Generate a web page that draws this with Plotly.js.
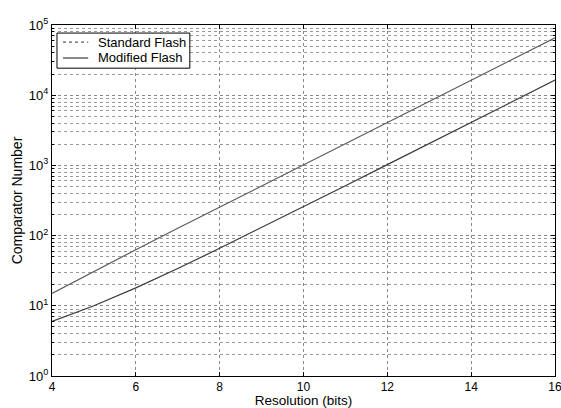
<!DOCTYPE html>
<html>
<head>
<meta charset="utf-8">
<script src="https://cdn.plot.ly/plotly-3.0.1.min.js"></script>
<style>html,body{margin:0;padding:0;background:#fff;}#chart{width:561px;height:408px;}</style>
</head>
<body>
<div id="chart"></div>
<script>
var resolution = [4, 5, 6, 7, 8, 9, 10, 11, 12, 13, 14, 15, 16];
var standardFlash = [15, 31, 63, 127, 255, 511, 1023, 2047, 4095, 8191, 16383, 32767, 65535];
var modifiedFlash = [6, 10, 18, 34, 66, 130, 258, 514, 1026, 2050, 4098, 8194, 16386];
var seriesNames = ['Standard Flash', 'Modified Flash'];
var seriesColors = ['#5a5a5a', '#3a3a3a'];
var yTickVals = [1, 10, 100, 1000, 10000, 100000];
var yTickText = ['10<sup>0</sup>', '10<sup>1</sup>', '10<sup>2</sup>', '10<sup>3</sup>', '10<sup>4</sup>', '10<sup>5</sup>'];
var xTickVals = [4, 6, 8, 10, 12, 14, 16];

var traces = [
  {x: resolution, y: standardFlash, name: seriesNames[0], mode: 'lines',
   line: {color: seriesColors[0], width: 1.2}},
  {x: resolution, y: modifiedFlash, name: seriesNames[1], mode: 'lines',
   line: {color: seriesColors[1], width: 1.2}}
];

var fam = 'Liberation Sans, Arial, sans-serif';
// custom compact legend (paper coordinates)
var legendShapes = [
  {type: 'rect', xref: 'paper', yref: 'paper', x0: 0.0099, x1: 0.274, y0: 0.877, y1: 0.977,
   line: {color: '#000', width: 1}, fillcolor: '#fff', layer: 'above'},
  {type: 'line', xref: 'paper', yref: 'paper', x0: 0.022, x1: 0.072, y0: 0.951, y1: 0.951,
   line: {color: seriesColors[0], width: 1.2, dash: 'dot'}, layer: 'above'},
  {type: 'line', xref: 'paper', yref: 'paper', x0: 0.022, x1: 0.072, y0: 0.906, y1: 0.906,
   line: {color: seriesColors[1], width: 1.2}, layer: 'above'}
];
var legendAnn = [
  {xref: 'paper', yref: 'paper', x: 0.088, y: 0.951, xanchor: 'left', yanchor: 'middle',
   text: seriesNames[0], showarrow: false, font: {family: fam, size: 13, color: '#000'}},
  {xref: 'paper', yref: 'paper', x: 0.088, y: 0.906, xanchor: 'left', yanchor: 'middle',
   text: seriesNames[1], showarrow: false, font: {family: fam, size: 13, color: '#000'}}
];

var layout = {
  width: 561, height: 408,
  margin: {l: 52, r: 6, t: 25, b: 32},
  paper_bgcolor: '#fff', plot_bgcolor: '#fff',
  font: {family: fam, size: 13, color: '#000'},
  showlegend: false,
  shapes: legendShapes,
  annotations: legendAnn,
  xaxis: {
    range: [4, 16], tickmode: 'array', tickvals: xTickVals,
    showline: true, mirror: 'ticks', linecolor: '#000', linewidth: 1,
    ticks: 'inside', ticklen: 4, tickcolor: '#000',
    ticklabeloverflow: 'allow',
    showgrid: true, gridcolor: '#888', griddash: 'dot', gridwidth: 1,
    zeroline: false,
    tickfont: {size: 12},
    title: {text: 'Resolution (bits)', font: {size: 13.5}, standoff: 0}
  },
  yaxis: {
    type: 'log', range: [0, 5], tickmode: 'array', tickvals: yTickVals, ticktext: yTickText,
    showline: true, mirror: 'ticks', linecolor: '#000', linewidth: 1,
    ticks: 'inside', ticklen: 4, tickcolor: '#000',
    showgrid: true, gridcolor: '#888', griddash: 'dot', gridwidth: 1,
    zeroline: false,
    tickfont: {size: 13},
    minor: {tickmode: 'linear', dtick: 'D1', showgrid: true, gridcolor: '#999', griddash: 'dot', gridwidth: 1,
            ticks: 'inside', ticklen: 2, tickcolor: '#000'},
    title: {text: 'Comparator Number', font: {size: 14}, standoff: 2}
  }
};
Plotly.newPlot('chart', traces, layout, {staticPlot: true, displayModeBar: false});
</script>
</body>
</html>
